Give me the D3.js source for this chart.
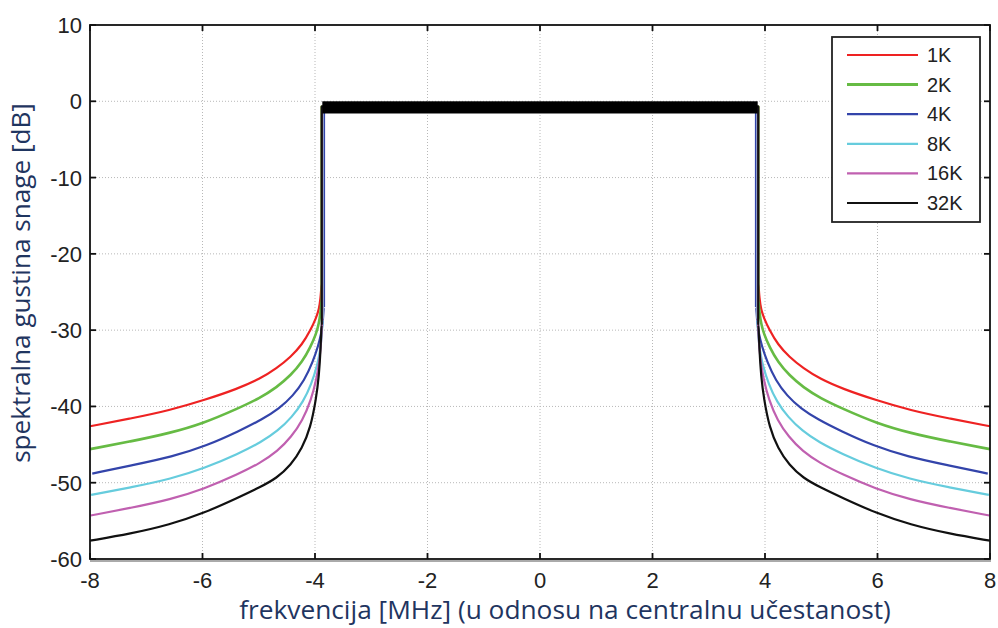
<!DOCTYPE html>
<html>
<head>
<meta charset="utf-8">
<script src="https://cdn.jsdelivr.net/npm/d3@7"></script>
<style>
  html, body { margin: 0; padding: 0; background: #fff; }
  svg { display: block; }
</style>
</head>
<body>
<svg id="chart" width="998" height="628"></svg>
<script>
// ---- data ----
const seriesNames = ["1K", "2K", "4K", "8K", "16K", "32K"];
const seriesColors = ["#ee2222", "#66bb44", "#3344aa", "#66ccdd", "#c060b0", "#111111"];
const seriesWidths = [2.2, 2.6, 2.2, 2.2, 2.2, 2.2];
// band edge (MHz from centre) where each spectrum drops vertically
const bandEdges = [3.88, 3.88, 3.84, 3.86, 3.87, 3.88];
// distance from band edge (MHz) at which side-lobe values were read
const edgeOffsets = [0.005, 0.02, 0.05, 0.1, 0.2, 0.35, 0.55, 0.8, 1.1, 1.5, 2.1, 2.7, 3.4, 4.12];
// side-lobe levels (dB), same on both sides of the band
const sideLobe1K  = [-24.0, -25.8, -27.3, -28.4, -30.0, -31.9, -33.5, -35.0, -36.4, -37.7, -39.2, -40.5, -41.6, -42.6];
const sideLobe2K  = [-26.1, -27.6, -29.1, -30.5, -32.2, -34.2, -35.9, -37.5, -38.9, -40.3, -42.2, -43.5, -44.6, -45.6];
const sideLobe4K  = [-27.0, -28.9, -30.5, -32.0, -34.2, -36.6, -38.6, -40.3, -41.7, -43.2, -45.2, -46.6, -47.7, -48.8];
const sideLobe8K  = [-28.5, -30.8, -32.8, -34.6, -37.0, -39.4, -41.4, -43.2, -44.7, -46.2, -48.1, -49.5, -50.6, -51.6];
const sideLobe16K = [-28.8, -31.5, -34.0, -36.3, -39.2, -41.8, -44.0, -45.9, -47.4, -48.9, -50.8, -52.2, -53.3, -54.3];
const sideLobe32K = [-29.3, -32.5, -36.0, -39.0, -42.8, -45.5, -47.7, -49.4, -50.6, -52.0, -54.0, -55.5, -56.7, -57.6];
const sideLobes = [sideLobe1K, sideLobe2K, sideLobe4K, sideLobe8K, sideLobe16K, sideLobe32K];
// passband level (dB) of each curve, and the ripple band of the 32K curve
const passLevels = [-0.7, -0.7, -0.7, -0.7, -0.7, -0.7];
const rippleBand = [0, -1.6];
const rippleEdge = 3.87;

const xTicks = [-8, -6, -4, -2, 0, 2, 4, 6, 8];
const yTicks = [10, 0, -10, -20, -30, -40, -50, -60];
const xTitle = "frekvencija [MHz] (u odnosu na centralnu učestanost)";
const yTitle = "spektralna gustina snage [dB]";

// ---- layout ----
const svg = d3.select("#chart");
const L = 90, R = 990, T = 25, B = 559;
const x = d3.scaleLinear().domain([-8, 8]).range([L, R]);
const y = d3.scaleLinear().domain([-60, 10]).range([B, T]);

const tickFont = "'Liberation Sans', Arial, sans-serif";
const titleFont = "'Open Sans', 'Noto Sans', sans-serif";
const titleColor = "#1f3560";

// grid
const grid = svg.append("g");
grid.selectAll(".gx").data(xTicks.filter(v => v > -8 && v < 8)).enter().append("line")
  .attr("x1", d => x(d)).attr("x2", d => x(d)).attr("y1", T).attr("y2", B)
  .attr("stroke", "#b8b8b8").attr("stroke-width", 1).attr("stroke-dasharray", "1,2");
grid.selectAll(".gy").data(yTicks.filter(v => v > -60 && v < 10)).enter().append("line")
  .attr("x1", L).attr("x2", R).attr("y1", d => y(d)).attr("y2", d => y(d))
  .attr("stroke", "#b8b8b8").attr("stroke-width", 1).attr("stroke-dasharray", "1,2");

// curves
const smooth = d3.line().x(d => x(d[0])).y(d => y(d[1])).curve(d3.curveBasis);
const straight = d3.line().x(d => x(d[0])).y(d => y(d[1]));
const plot = svg.append("g");
sideLobes.forEach((vals, i) => {
  const e = bandEdges[i];
  const left = edgeOffsets.map((d, k) => [-(e + d), vals[k]]).reverse().concat([[-e, vals[0]]]);
  const right = [[e, vals[0]]].concat(edgeOffsets.map((d, k) => [e + d, vals[k]]));
  const mid = [[-e, vals[0]], [-e, passLevels[i]], [e, passLevels[i]], [e, vals[0]]];
  const g = plot.append("g").attr("fill", "none").attr("stroke", seriesColors[i])
    .attr("stroke-width", seriesWidths[i]).attr("stroke-linejoin", "round");
  g.append("path").datum(left).attr("d", smooth);
  g.append("path").datum(right).attr("d", smooth);
  g.append("path").datum(mid).attr("d", straight);
});
// 32K ripple band in the passband
plot.append("rect")
  .attr("x", x(-rippleEdge)).attr("width", x(rippleEdge) - x(-rippleEdge))
  .attr("y", y(rippleBand[0])).attr("height", y(rippleBand[1]) - y(rippleBand[0]))
  .attr("fill", "#000");

// frame
svg.append("rect").attr("x", L).attr("y", T).attr("width", R - L).attr("height", B - T)
  .attr("fill", "none").attr("stroke", "#111").attr("stroke-width", 1.8);
svg.append("line").attr("x1", L).attr("x2", R + 1).attr("y1", B + 2).attr("y2", B + 2)
  .attr("stroke", "#aaa").attr("stroke-width", 2);

// ticks (inward, all four sides)
const tk = 6;
const ticks = svg.append("g").attr("stroke", "#111").attr("stroke-width", 1.8);
xTicks.forEach(v => {
  ticks.append("line").attr("x1", x(v)).attr("x2", x(v)).attr("y1", B).attr("y2", B - tk);
  ticks.append("line").attr("x1", x(v)).attr("x2", x(v)).attr("y1", T).attr("y2", T + tk);
});
yTicks.forEach(v => {
  ticks.append("line").attr("x1", L).attr("x2", L + tk).attr("y1", y(v)).attr("y2", y(v));
  ticks.append("line").attr("x1", R).attr("x2", R - tk).attr("y1", y(v)).attr("y2", y(v));
});

// tick labels
svg.append("g").selectAll("text").data(xTicks).enter().append("text")
  .attr("x", d => x(d)).attr("y", 588)
  .attr("text-anchor", "middle")
  .attr("font-family", tickFont).attr("font-size", 22).attr("fill", "#222")
  .text(d => d);
svg.append("g").selectAll("text").data(yTicks).enter().append("text")
  .attr("x", 82).attr("y", d => y(d) + 8)
  .attr("text-anchor", "end")
  .attr("font-family", tickFont).attr("font-size", 22).attr("fill", "#222")
  .text(d => d);

// titles, sized to match reference extents
function fit(sel, target) {
  const w = sel.node().getComputedTextLength();
  const fs = parseFloat(sel.attr("font-size"));
  sel.attr("font-size", fs * target / w);
}
const xt = svg.append("text").attr("x", 565).attr("y", 619)
  .attr("text-anchor", "middle").attr("font-family", titleFont).attr("font-size", 22)
  .attr("fill", titleColor).text(xTitle);
fit(xt, 652);
const yt = svg.append("text").attr("transform", "translate(30,283) rotate(-90)")
  .attr("text-anchor", "middle").attr("font-family", titleFont).attr("font-size", 22)
  .attr("fill", titleColor).text(yTitle);
fit(yt, 360);

// legend
const lg = svg.append("g");
lg.append("rect").attr("x", 832).attr("y", 37).attr("width", 148).attr("height", 185)
  .attr("fill", "#fff").attr("stroke", "#222").attr("stroke-width", 1.8);
seriesNames.forEach((n, i) => {
  const yy = 55 + i * 29.6;
  lg.append("line").attr("x1", 847).attr("x2", 918).attr("y1", yy).attr("y2", yy)
    .attr("stroke", seriesColors[i]).attr("stroke-width", i === 1 ? 3 : 2.2);
  lg.append("text").attr("x", 927).attr("y", yy + 7)
    .attr("font-family", tickFont).attr("font-size", 20).attr("fill", "#222").text(n);
});
</script>
</body>
</html>
